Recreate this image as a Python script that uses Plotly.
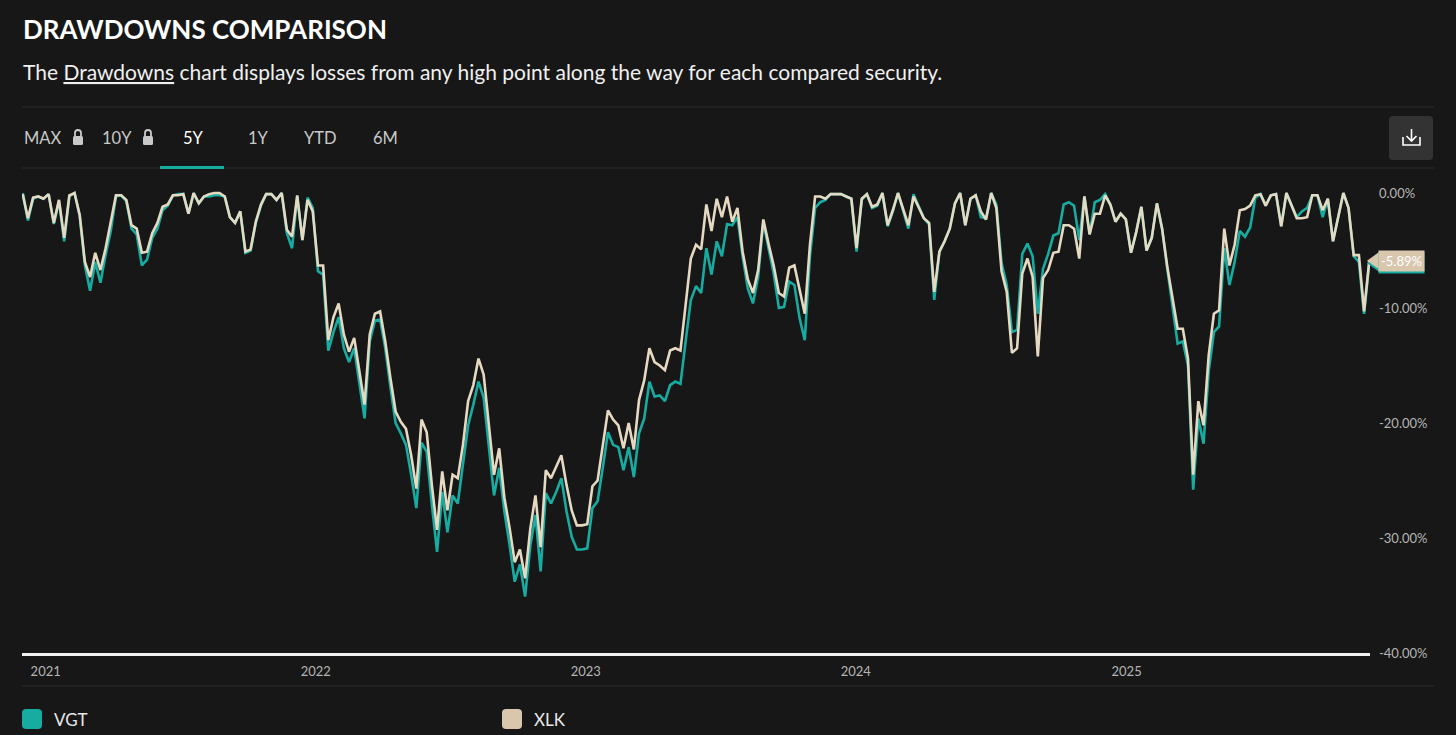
import pandas as pd
import plotly.graph_objects as go

# weekly drawdowns, percent from the running high
dates = pd.date_range("2020-12-01", periods=261, freq="7D")

xlk = [
    -0.1, -2.2, -0.4, -0.3, -0.5, -0.1, -2.6, -0.6, -3.9, -0.2,
    0.0, -1.9, -6.0, -7.3, -5.2, -6.7, -4.8, -2.5, -0.2, -0.2,
    -0.6, -2.8, -3.1, -5.2, -5.1, -3.5, -2.6, -1.2, -1.0, -0.2,
    -0.2, -0.1, -1.8, 0.0, -0.9, -0.3, -0.1, 0.0, 0.0, -0.3,
    -2.1, -2.6, -1.6, -5.1, -4.9, -2.5, -1.0, -0.1, -0.1, -0.6,
    0.0, -3.2, -3.8, -0.2, -4.1, -0.6, -1.6, -6.3, -6.3, -12.8,
    -10.8, -9.6, -12.3, -13.8, -12.6, -15.5, -18.4, -12.3, -10.5, -10.3,
    -12.9, -16.1, -19.0, -19.9, -20.5, -22.8, -25.7, -19.7, -20.8, -25.4,
    -29.3, -24.2, -27.6, -24.5, -24.8, -21.9, -18.1, -16.7, -14.4, -15.8,
    -20.1, -24.5, -22.2, -26.5, -29.1, -32.1, -31.0, -33.5, -29.2, -26.3,
    -30.8, -24.1, -24.8, -23.8, -22.8, -25.4, -27.6, -28.9, -28.9, -28.8,
    -25.5, -25.0, -21.9, -18.9, -19.7, -20.2, -22.2, -20.0, -22.3, -18.0,
    -16.3, -13.5, -14.7, -15.0, -15.4, -13.7, -13.5, -13.7, -9.7, -5.7,
    -4.5, -4.9, -1.0, -3.3, -0.5, -2.1, -0.3, -2.5, -1.3, -5.1,
    -7.5, -8.7, -6.7, -2.3, -4.4, -6.3, -8.7, -9.0, -6.5, -6.3,
    -8.4, -10.5, -4.5, -0.3, -0.3, -0.5, -0.1, -0.1, -0.1, -0.3,
    -0.5, -4.8, -0.5, -0.1, -1.2, -1.0, 0.0, -2.8, -1.5, 0.0,
    -1.5, -2.8, -0.3, -1.3, -2.2, -2.6, -8.6, -5.1, -4.2, -3.1,
    -0.9, 0.0, -2.8, -0.5, -0.2, -1.6, -2.3, 0.0, -1.3, -6.8,
    -8.6, -13.9, -13.5, -7.0, -5.7, -7.3, -14.2, -7.4, -6.7, -5.2,
    -5.1, -2.8, -2.8, -3.1, -5.7, -0.3, -3.6, -1.8, -1.8, -0.2,
    -1.0, -2.5, -1.8, -2.3, -5.2, -3.4, -1.2, -5.0, -3.9, -0.9,
    -3.1, -6.4, -9.3, -11.8, -11.8, -14.4, -24.5, -18.1, -20.2, -14.1,
    -10.5, -10.2, -3.1, -6.3, -4.5, -1.5, -1.4, -1.1, -0.2, -0.1,
    -1.1, -0.2, -0.1, -2.9, 0.0, -1.1, -2.2, -2.2, -2.1, -0.2,
    -0.2, -1.5, -0.5, -4.2, -2.1, 0.0, -1.3, -5.4, -5.4, -10.3,
    -5.89,
]

vgt = [
    0.0, -2.4, -0.5, -0.3, -0.5, -0.1, -2.7, -0.7, -4.2, -0.3,
    0.0, -2.0, -6.3, -8.5, -6.0, -7.8, -5.4, -3.3, -0.3, -0.2,
    -0.7, -3.1, -3.6, -6.3, -5.8, -3.9, -3.1, -1.5, -1.1, -0.2,
    -0.1, -0.1, -1.8, 0.0, -0.9, -0.3, -0.3, -0.2, -0.2, -0.3,
    -2.1, -2.6, -1.6, -5.2, -5.0, -2.6, -1.1, -0.1, -0.1, -0.6,
    0.0, -3.5, -4.8, -0.3, -4.1, -0.4, -1.3, -6.8, -7.1, -13.7,
    -12.1, -10.8, -13.5, -14.7, -13.5, -16.4, -19.6, -12.9, -11.1, -11.0,
    -13.5, -16.9, -20.0, -20.9, -21.9, -24.5, -27.4, -21.7, -22.5, -27.1,
    -31.2, -26.0, -29.5, -26.3, -27.0, -23.6, -20.2, -18.4, -16.4, -17.8,
    -22.1, -26.3, -23.9, -27.7, -30.6, -33.8, -32.3, -35.1, -30.7, -28.0,
    -32.9, -26.1, -27.0, -26.0, -24.8, -27.7, -29.9, -31.0, -31.0, -30.9,
    -27.4, -26.8, -23.9, -20.8, -21.9, -22.1, -24.1, -22.1, -24.7, -20.9,
    -19.6, -16.4, -17.7, -17.6, -18.1, -16.7, -16.4, -16.6, -12.9, -9.3,
    -8.1, -8.7, -4.8, -7.1, -4.2, -5.5, -2.7, -2.8, -2.1, -5.5,
    -8.3, -9.6, -7.3, -2.5, -4.8, -7.0, -10.0, -9.9, -7.7, -8.0,
    -10.9, -12.8, -5.5, -1.3, -0.8, -0.6, -0.1, -0.1, -0.1, -0.3,
    -0.5, -5.1, -0.6, -0.1, -1.3, -1.1, 0.0, -2.9, -1.6, 0.0,
    -1.6, -3.1, -0.1, -1.2, -2.2, -2.7, -9.3, -5.1, -4.2, -3.1,
    -0.9, 0.0, -2.8, -0.5, -0.2, -2.1, -2.2, 0.0, -1.0, -6.1,
    -8.0, -12.1, -11.9, -5.3, -4.4, -5.5, -10.5, -6.6, -5.3, -3.7,
    -3.5, -1.0, -0.8, -1.1, -4.1, -0.3, -3.6, -0.8, -0.6, -0.1,
    -1.0, -2.5, -1.8, -2.3, -5.2, -3.4, -1.2, -5.0, -3.9, -0.9,
    -3.1, -6.6, -10.0, -13.1, -12.9, -15.0, -25.8, -19.6, -21.8, -15.5,
    -12.1, -11.6, -4.8, -8.0, -6.0, -3.3, -3.8, -3.0, -0.4, -0.1,
    -1.1, -0.2, -0.1, -2.9, 0.0, -1.1, -2.1, -1.6, -1.3, -0.2,
    -0.2, -2.1, -0.5, -4.2, -2.1, 0.0, -1.3, -5.5, -6.0, -10.5,
    -6.1,
]

series_names = ["VGT", "XLK"]
y_ticks = [0, -10, -20, -30, -40]
periods = ["MAX", "10Y", "5Y", "1Y", "YTD", "6M"]

BG = "#171717"
TEAL = "#16aca1"
CREAM = "#e5d9c2"
CREAM_BOX = "#d8c7ad"
LINE = "#2c2c2c"
TXT = "#c9c9c9"
FONT = "Lato"

W, H = 1456, 735
L, R, T, B = 22, 1370, 183, 653


def px(x):
    return (x - L) / (R - L)


def py(y):
    return (B - y) / (B - T)


def rounded(x0, y0, x1, y1, r):
    a, b, c, d = px(x0), py(y0), px(x1), py(y1)
    rx, ry = r / (R - L), r / (B - T)
    return (f"M{a + rx},{b} L{c - rx},{b} Q{c},{b} {c},{b - ry} "
            f"L{c},{d + ry} Q{c},{d} {c - rx},{d} L{a + rx},{d} "
            f"Q{a},{d} {a},{d + ry} L{a},{b - ry} Q{a},{b} {a + rx},{b} Z")


fig = go.Figure()
fig.add_trace(go.Scatter(x=dates, y=vgt, name="VGT", mode="lines",
                         line=dict(color=TEAL, width=2.6)))
fig.add_trace(go.Scatter(x=dates, y=xlk, name="XLK", mode="lines",
                         line=dict(color=CREAM, width=2.6)))

shapes = []
annotations = []

def hline(y, x0=22, x1=1434, color=LINE, width=1):
    shapes.append(dict(type="line", xref="paper", yref="paper",
                       x0=px(x0), x1=px(x1), y0=py(y), y1=py(y),
                       line=dict(color=color, width=width)))

hline(107)
hline(168)
hline(686)

# title + subtitle
annotations.append(dict(text="<b>DRAWDOWNS COMPARISON</b>", x=px(21), y=py(29),
                        xref="paper", yref="paper", xanchor="left", yanchor="middle",
                        showarrow=False, font=dict(family=FONT, size=26, color="#ffffff")))
annotations.append(dict(
    text="The <u>Drawdowns</u> chart displays losses from any high point along the way for each compared security.",
    x=px(21), y=py(72), xref="paper", yref="paper", xanchor="left", yanchor="middle",
    showarrow=False, font=dict(family=FONT, size=21, color="#f0f0f0")))

# period tabs
tab_x = [22, 100, 181, 246, 302, 371]
for label, tx in zip(periods, tab_x):
    annotations.append(dict(text=label, x=px(tx), y=py(138), xref="paper", yref="paper",
                            xanchor="left", yanchor="middle", showarrow=False,
                            font=dict(family=FONT, size=16.5,
                                      color="#ffffff" if label == "5Y" else TXT)))
shapes.append(dict(type="rect", xref="paper", yref="paper", x0=px(160), x1=px(224),
                   y0=py(169), y1=py(166), fillcolor=TEAL, line=dict(width=0)))

# lock icons
for lx in [78, 148]:
    shapes.append(dict(type="path", xref="paper", yref="paper",
                       path=rounded(lx - 5, 136, lx + 5, 145, 1.5),
                       fillcolor=TXT, line=dict(width=0)))
    shapes.append(dict(type="path", xref="paper", yref="paper",
                       path=(f"M{px(lx - 3)},{py(136.5)} L{px(lx - 3)},{py(133)} "
                             f"C{px(lx - 3)},{py(129)} {px(lx + 3)},{py(129)} {px(lx + 3)},{py(133)} "
                             f"L{px(lx + 3)},{py(136.5)}"),
                       line=dict(color=TXT, width=1.8)))

# download button
shapes.append(dict(type="path", xref="paper", yref="paper",
                   path=rounded(1389, 116, 1433, 160, 4),
                   fillcolor="#333333", line=dict(width=0)))
shapes.append(dict(type="path", xref="paper", yref="paper",
                   path=(f"M{px(1403)},{py(137)} L{px(1403)},{py(145)} "
                         f"L{px(1420)},{py(145)} L{px(1420)},{py(137)}"),
                   line=dict(color="#ffffff", width=1.6)))
shapes.append(dict(type="path", xref="paper", yref="paper",
                   path=(f"M{px(1411.5)},{py(129)} L{px(1411.5)},{py(141)} "
                         f"M{px(1406.5)},{py(136)} L{px(1411.5)},{py(141)} L{px(1416.5)},{py(136)}"),
                   line=dict(color="#ffffff", width=1.6)))

# legend
for name, color, box_color, lx in [("VGT", TEAL, TEAL, 22), ("XLK", CREAM, CREAM_BOX, 502)]:
    shapes.append(dict(type="path", xref="paper", yref="paper",
                       path=rounded(lx, 709, lx + 20, 729, 4),
                       fillcolor=box_color, line=dict(width=0)))
    annotations.append(dict(text=name, x=px(lx + 30), y=py(719), xref="paper", yref="paper",
                            xanchor="left", yanchor="middle", showarrow=False,
                            font=dict(family=FONT, size=17, color="#e8e8e8")))

# last value flags (VGT behind XLK)
for vals, fill in [(vgt, TEAL), (xlk, CREAM_BOX)]:
    last = vals[-1]
    shapes.append(dict(type="path", xref="paper", yref="y",
                       path=(f"M{px(1367)},{last} L{px(1379)},{last + 0.75} "
                             f"L{px(1379)},{last - 0.75} Z"),
                       fillcolor=fill, line=dict(width=0)))
    annotations.append(dict(text=f"{xlk[-1]:.2f}%", x=px(1378), y=last, xref="paper", yref="y",
                            xanchor="left", yanchor="middle", showarrow=False,
                            bgcolor=fill, borderpad=2,
                            font=dict(family=FONT, size=13, color="#ffffff")))

fig.update_layout(
    width=W, height=H,
    margin=dict(l=L, r=W - R, t=T, b=H - B),
    paper_bgcolor=BG, plot_bgcolor=BG,
    showlegend=False,
    shapes=shapes,
    annotations=annotations,
    font=dict(family=FONT, color=TXT),
    hovermode="x unified",
    xaxis=dict(
        range=[dates[0] - pd.Timedelta(days=1), dates[-1] + pd.Timedelta(days=1)],
        showgrid=False, zeroline=False,
        showline=True, linecolor="#f2f2f2", linewidth=3,
        tickformat="%Y", dtick="M12", tick0="2021-01-01",
        tickfont=dict(family=FONT, size=13, color="#b5b5b5"),
        ticks="", ticklabelstandoff=4,
    ),
    yaxis=dict(
        side="right", range=[-40, 0.87],
        tickvals=y_ticks, ticktext=[f"{v:.2f}%" for v in y_ticks],
        showgrid=False, zeroline=False, showline=False,
        tickfont=dict(family=FONT, size=13, color="#b5b5b5"),
        ticks="", ticklabelstandoff=8,
    ),
)

fig.write_html("out.html", config={"displayModeBar": False},
               post_script="document.body.style.margin='0';document.body.style.background='#171717';")
